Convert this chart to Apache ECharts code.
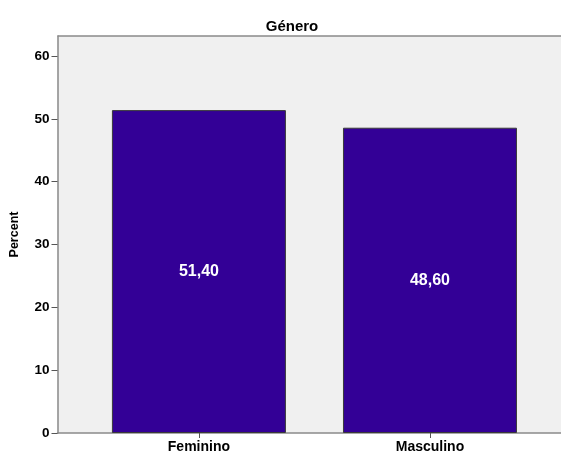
<!DOCTYPE html>
<html>
<head>
<meta charset="utf-8">
<style>
  html, body { margin: 0; padding: 0; background: #ffffff; }
  #chart { width: 561px; height: 457px; }
</style>
<script src="https://cdn.jsdelivr.net/npm/echarts@6/dist/echarts.min.js"></script>
</head>
<body>
<div id="chart"></div>
<script>
// Gender distribution (percent of respondents)
const categories = ['Feminino', 'Masculino'];
const percentValues = [51.4, 48.6];
const yTicks = [0, 10, 20, 30, 40, 50, 60];

const FONT = '"Liberation Sans", Arial, sans-serif';
const AXIS_GREY = '#8a8a8a';

const chart = echarts.init(document.getElementById('chart'), null, { renderer: 'canvas' });

// Bars sit on a numeric x scale so the plot frame can extend past the outer categories
const barData = categories.map((c, i) => [i, percentValues[i]]);

chart.setOption({
  animation: false,
  title: {
    text: 'Género',
    left: 287,
    top: 14,
    textAlign: 'center',
    textStyle: { fontFamily: FONT, fontSize: 15, fontWeight: 'bold', color: '#000' }
  },
  grid: {
    left: 57.5,
    right: 0,
    top: 36,
    bottom: 24,
    show: true,
    backgroundColor: '#f0f0f0',
    borderWidth: 0
  },
  xAxis: {
    type: 'value',
    min: -0.612,
    max: 1.567,
    splitLine: { show: false },
    axisLine: { show: true, onZero: false, lineStyle: { color: AXIS_GREY, width: 1.5 } },
    axisTick: { show: true, customValues: [0, 1], length: 5, lineStyle: { color: '#555', width: 1 } },
    axisLabel: {
      customValues: [0, 1],
      formatter: v => categories[Math.round(v)] || '',
      fontFamily: FONT, fontSize: 14, fontWeight: 'bold', color: '#000', margin: 7
    }
  },
  yAxis: {
    type: 'value',
    min: 0,
    max: 63.2,
    interval: 10,
    name: 'Percent',
    nameLocation: 'middle',
    nameGap: 36,
    nameTextStyle: { fontFamily: FONT, fontSize: 12.5, fontWeight: 'bold', color: '#000' },
    splitLine: { show: false },
    axisLine: { show: true, onZero: false, lineStyle: { color: AXIS_GREY, width: 1.5 } },
    axisTick: { show: true, customValues: yTicks, length: 6, lineStyle: { color: '#555', width: 1 } },
    axisLabel: {
      customValues: yTicks,
      fontFamily: FONT, fontSize: 13.5, fontWeight: 'bold', color: '#000', margin: 8
    }
  },
  // thin grey line along the top of the plot frame
  graphic: [{
    type: 'line',
    shape: { x1: 57.5, y1: 36, x2: 561, y2: 36 },
    style: { stroke: AXIS_GREY, lineWidth: 1.5 }
  }],
  series: [{
    type: 'bar',
    data: barData,
    barWidth: 174,
    itemStyle: { color: '#330096', borderColor: '#3a3a3a', borderWidth: 1 },
    label: {
      show: true,
      position: 'inside',
      formatter: p => p.value[1].toFixed(2).replace('.', ','),
      fontFamily: FONT, fontSize: 16, fontWeight: 'bold', color: '#ffffff'
    }
  }]
});
</script>
</body>
</html>
